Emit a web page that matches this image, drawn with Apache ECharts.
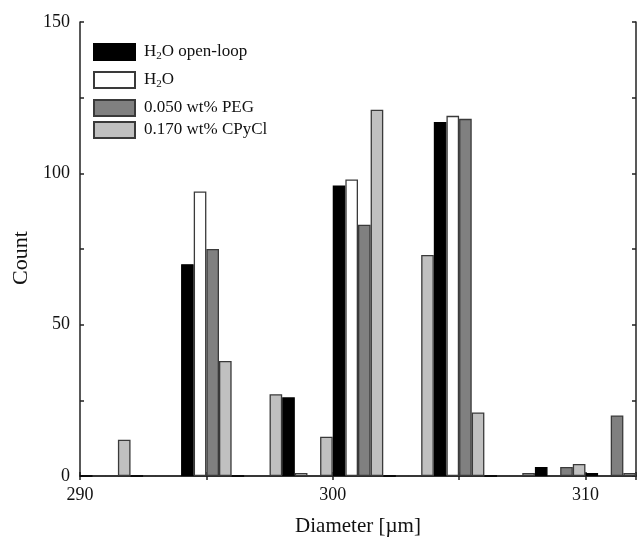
<!DOCTYPE html>
<html>
<head>
<meta charset="utf-8">
<script src="https://cdn.jsdelivr.net/npm/echarts@6/dist/echarts.min.js"></script>
<style>
html,body{margin:0;padding:0;background:#fff;}
#chart{width:637px;height:538px;}
</style>
</head>
<body>
<div id="chart"></div>
<script>
// Bin centres (µm), bin width 2 µm
const binCenters = [291, 293, 295, 297, 299, 301, 303, 305, 307, 309, 311];
const seriesNames = ['H2O open-loop', 'H2O', '0.050 wt% PEG', '0.170 wt% CPyCl'];
const h2oOpenLoop = [0, 0, 70, 0, 26, 96, 0, 117, 0, 3, 1];
const h2o         = [0, 0, 94, 0, 1, 98, 0, 119, 0, 0, 0];
const peg         = [0, 0, 75, 0, 0, 83, 0, 118, 0, 3, 20];
const cpycl       = [12, 0, 38, 27, 13, 121, 73, 21, 1, 4, 1];
const xTickLabels = [290, 300, 310];
const yTickLabels = [0, 50, 100, 150];

const fills = ['#000000', '#ffffff', '#808080', '#c0c0c0'];
const borders = ['#000000', '#3a3a3a', '#3a3a3a', '#3a3a3a'];
const values = [h2oOpenLoop, h2o, peg, cpycl];
const FONT = 'Liberation Serif';

const chart = echarts.init(document.getElementById('chart'));

const series = seriesNames.map((name, k) => ({
  name: name,
  type: 'bar',
  barGap: '0%',
  barCategoryGap: '0%',
  data: binCenters.map((x, i) => [x, values[k][i]]),
  itemStyle: { color: fills[k], borderColor: borders[k], borderWidth: 1.3 },
  emphasis: { disabled: true }
}));

const legendTops = [43, 71, 99, 121];
const legends = seriesNames.map((name, k) => ({
  data: [name],
  left: 93,
  top: legendTops[k],
  padding: 0,
  itemWidth: 41,
  itemHeight: 16,
  itemGap: 0,
  icon: 'rect',
  selectedMode: false,
  formatter: function (n) {
    if (n.indexOf('H2O') === 0) {
      return '{n|H}{sub|2}{n|O' + n.slice(3) + '}';
    }
    return '{n|' + n + '}';
  },
  textStyle: {
    fontFamily: FONT, fontSize: 17, color: '#111', padding: [0, 0, 0, 4],
    rich: {
      n: { fontFamily: FONT, fontSize: 17, color: '#111' },
      sub: { fontFamily: FONT, fontSize: 11, color: '#111', padding: [9, 0, 0, 0] }
    }
  }
}));

const axisLineStyle = { color: '#222', width: 1.5 };

chart.setOption({
  animation: false,
  backgroundColor: '#ffffff',
  grid: { left: 80, right: 1, top: 22, bottom: 62, containLabel: false, outerBoundsMode: 'none' },
  legend: legends,
  xAxis: [{
    type: 'value', min: 290, max: 312, interval: 5,
    name: 'Diameter [µm]', nameLocation: 'middle', nameGap: 40,
    nameTextStyle: { fontFamily: FONT, fontSize: 21, color: '#111' },
    axisLine: { show: true, lineStyle: axisLineStyle },
    axisTick: { show: true, inside: true, length: 4, lineStyle: axisLineStyle },
    axisLabel: {
      fontFamily: FONT, fontSize: 18, color: '#111', margin: 10,
      formatter: v => (xTickLabels.indexOf(v) >= 0 ? String(v) : '')
    },
    splitLine: { show: false }
  }, {
    type: 'value', min: 290, max: 312, interval: 5, position: 'top',
    axisLine: { show: true, lineStyle: axisLineStyle },
    axisTick: { show: true, inside: true, length: 4, lineStyle: axisLineStyle },
    axisLabel: { show: false },
    splitLine: { show: false }
  }],
  yAxis: [{
    type: 'value', min: 0, max: 150, interval: 25,
    name: 'Count', nameLocation: 'middle', nameGap: 48, nameRotate: 90,
    nameTextStyle: { fontFamily: FONT, fontSize: 22, color: '#111', padding: [0, 18, 0, 0] },
    axisLine: { show: true, lineStyle: axisLineStyle },
    axisTick: { show: true, inside: true, length: 4, lineStyle: axisLineStyle },
    axisLabel: {
      fontFamily: FONT, fontSize: 18, color: '#111', margin: 10,
      formatter: v => (yTickLabels.indexOf(v) >= 0 ? String(v) : '')
    },
    splitLine: { show: false }
  }, {
    type: 'value', min: 0, max: 150, interval: 25, position: 'right',
    axisLine: { show: true, lineStyle: axisLineStyle },
    axisTick: { show: true, inside: true, length: 4, lineStyle: axisLineStyle },
    axisLabel: { show: false },
    splitLine: { show: false }
  }],
  series: series
});
</script>
</body>
</html>
